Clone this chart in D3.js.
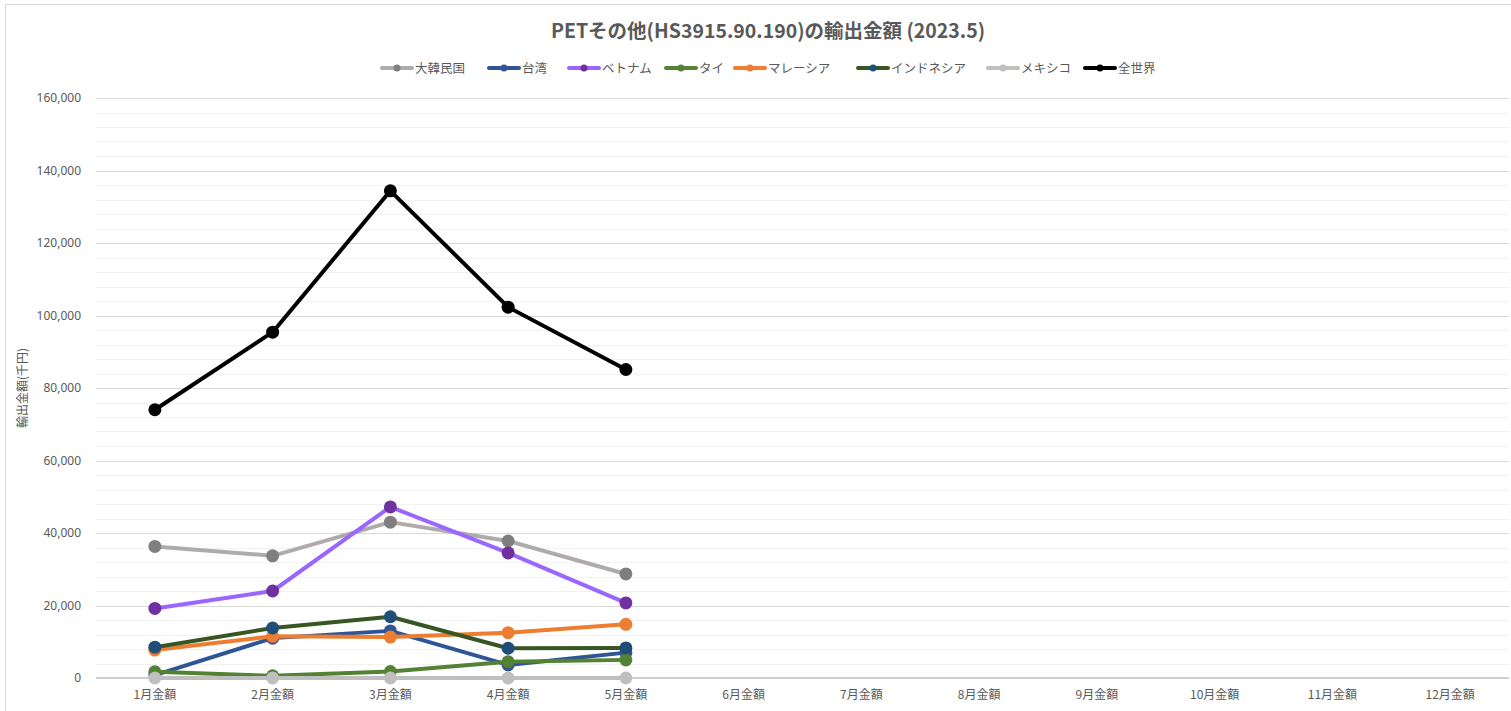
<!DOCTYPE html>
<html>
<head>
<meta charset="utf-8">
<title>PETその他 輸出金額</title>
<script src="https://d3js.org/d3.v7.min.js"></script>
<style>
  body { margin: 0; background: #fff; }
  text { font-family: "Noto Sans CJK JP", "Noto Sans", sans-serif; }
</style>
</head>
<body>
<div id="chart"></div>
<script>
// categories and tick labels
var months = ["1月金額","2月金額","3月金額","4月金額","5月金額","6月金額","7月金額","8月金額","9月金額","10月金額","11月金額","12月金額"];
var yTicks = [0, 20000, 40000, 60000, 80000, 100000, 120000, 140000, 160000];

// series values (千円), Jan-May
var korea     = [36300, 33700, 43000, 37800, 28700];
var taiwan    = [800, 11000, 13000, 3600, 7000];
var vietnam   = [19200, 24000, 47200, 34500, 20700];
var thailand  = [1700, 600, 1800, 4500, 5000];
var malaysia  = [7700, 11500, 11300, 12500, 14800];
var indonesia = [8500, 13800, 16900, 8200, 8300];
var mexico    = [0, 0, 0, 0, 0];
var world     = [74000, 95400, 134400, 102300, 85100];

var seriesNames = ["大韓民国","台湾","ベトナム","タイ","マレーシア","インドネシア","メキシコ","全世界"];
var seriesVals = [korea, taiwan, vietnam, thailand, malaysia, indonesia, mexico, world];
var lineColors = ["#AFABAB","#2F5597","#9966FF","#548235","#ED7D31","#375623","#BFBFBF","#000000"];
var markColors = ["#7F7F7F","#2F5597","#7030A0","#548235","#ED7D31","#1F4E79","#BFBFBF","#000000"];

var W = 1511, H = 711;
var plot = {left: 96, right: 1509, top: 98, bottom: 678};

var svg = d3.select("#chart").append("svg")
  .attr("width", W).attr("height", H);

// chart border
svg.append("rect").attr("x", 5.5).attr("y", 4.5)
  .attr("width", W).attr("height", H)
  .attr("fill", "#fff").attr("stroke", "#d9d9d9");

var x = d3.scaleBand().domain(months).range([plot.left, plot.right]);
var y = d3.scaleLinear().domain([0, 160000]).range([plot.bottom, plot.top]);

// minor gridlines
svg.append("g").selectAll("line")
  .data(d3.range(0, 160001, 4000).filter(function(v){ return v % 20000 != 0; }))
  .enter().append("line")
  .attr("x1", plot.left).attr("x2", plot.right)
  .attr("y1", function(d){ return Math.round(y(d)) + 0.5; })
  .attr("y2", function(d){ return Math.round(y(d)) + 0.5; })
  .attr("stroke", "#f2f2f2").attr("stroke-width", 1);

// major gridlines
svg.append("g").selectAll("line")
  .data(yTicks.filter(function(v){ return v > 0; }))
  .enter().append("line")
  .attr("x1", plot.left).attr("x2", plot.right)
  .attr("y1", function(d){ return Math.round(y(d)) + 0.5; })
  .attr("y2", function(d){ return Math.round(y(d)) + 0.5; })
  .attr("stroke", "#d9d9d9").attr("stroke-width", 1);

// x axis baseline
svg.append("line")
  .attr("x1", plot.left).attr("x2", plot.right)
  .attr("y1", y(0)).attr("y2", y(0))
  .attr("stroke", "#bfbfbf").attr("stroke-width", 1.5);

// y axis
var yAxis = svg.append("g")
  .attr("transform", "translate(" + plot.left + ",0)")
  .call(d3.axisLeft(y).tickValues(yTicks).tickFormat(d3.format(",")).tickSize(0).tickPadding(15));
yAxis.select(".domain").remove();
yAxis.selectAll("text").attr("fill", "#595959").style("font-size", "12px")
  .style("font-family", "'Noto Sans', sans-serif");

// x axis
var xAxis = svg.append("g")
  .attr("transform", "translate(0," + plot.bottom + ")")
  .call(d3.axisBottom(x).tickSize(0).tickPadding(12));
xAxis.select(".domain").remove();
xAxis.selectAll("text").attr("fill", "#595959").style("font-size", "12px");

// axis title
svg.append("text")
  .attr("transform", "translate(27,388) rotate(-90)")
  .attr("text-anchor", "middle")
  .attr("fill", "#595959").style("font-size", "12px")
  .text("輸出金額(千円)");

// title
svg.append("text")
  .attr("x", 768).attr("y", 38)
  .attr("text-anchor", "middle")
  .attr("fill", "#595959").style("font-size", "19.5px").style("font-weight", "bold")
  .text("PETその他(HS3915.90.190)の輸出金額 (2023.5)");

// lines
var line = d3.line()
  .x(function(d, i){ return x(months[i]) + x.bandwidth() / 2; })
  .y(function(d){ return y(d); });

// draw order: Excel order, last on top
seriesVals.forEach(function(vals, k) {
  var g = svg.append("g");
  g.append("path")
    .attr("d", line(vals))
    .attr("fill", "none")
    .attr("stroke", lineColors[k])
    .attr("stroke-width", 4)
    .attr("stroke-linejoin", "round");
  g.selectAll("circle").data(vals).enter().append("circle")
    .attr("cx", function(d, i){ return x(months[i]) + x.bandwidth() / 2; })
    .attr("cy", function(d){ return y(d); })
    .attr("r", 6.5)
    .attr("fill", markColors[k]);
});

// legend
var legendX = [382, 489, 569, 666, 735, 858, 988, 1085];
var legend = svg.append("g");
seriesNames.forEach(function(name, k) {
  var lg = legend.append("g").attr("transform", "translate(" + legendX[k] + ",68)");
  lg.append("line").attr("x1", 0).attr("x2", 30).attr("y1", 0).attr("y2", 0)
    .attr("stroke", lineColors[k]).attr("stroke-width", 4).attr("stroke-linecap", "round");
  lg.append("circle").attr("cx", 15).attr("cy", 0).attr("r", 3.5).attr("fill", markColors[k]);
  lg.append("text").attr("x", 33).attr("y", 4.5)
    .attr("fill", "#595959").style("font-size", "12.5px").text(name);
});
</script>
</body>
</html>
